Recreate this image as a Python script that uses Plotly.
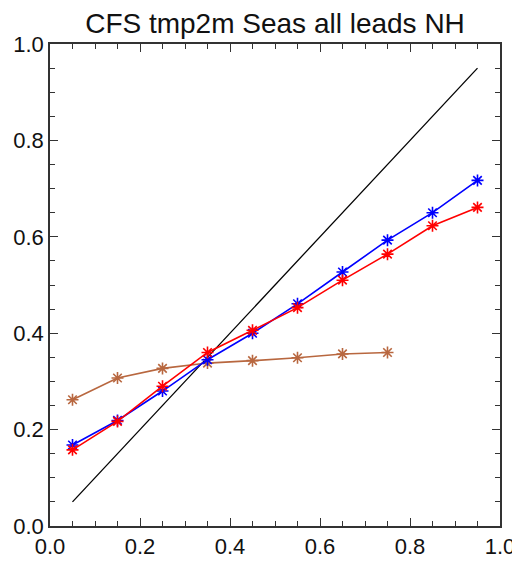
import plotly.graph_objects as go

x_bins = [0.05, 0.15, 0.25, 0.35, 0.45, 0.55, 0.65, 0.75, 0.85, 0.95]
blue_vals = [0.168, 0.219, 0.280, 0.345, 0.400, 0.461, 0.527, 0.593, 0.650, 0.717]
red_vals = [0.158, 0.217, 0.290, 0.360, 0.406, 0.453, 0.510, 0.564, 0.623, 0.661]
brown_x = [0.05, 0.15, 0.25, 0.35, 0.45, 0.55, 0.65, 0.75]
brown_vals = [0.262, 0.307, 0.327, 0.338, 0.343, 0.349, 0.357, 0.360]
diag_x = [0.05, 0.95]
diag_y = [0.05, 0.95]

title_text = "CFS tmp2m Seas all leads NH"

fig = go.Figure()
fig.add_trace(go.Scatter(x=diag_x, y=diag_y, mode="lines",
                         line=dict(color="black", width=1.3), showlegend=False))
for xs, ys, col in [(brown_x, brown_vals, "#B8673F"),
                    (x_bins, blue_vals, "#0000FF"),
                    (x_bins, red_vals, "#FF0000")]:
    fig.add_trace(go.Scatter(x=xs, y=ys, mode="lines+markers",
                             line=dict(color=col, width=1.6),
                             marker=dict(symbol="asterisk-open", size=10,
                                         line=dict(color=col, width=1.6)),
                             showlegend=False))

axis_common = dict(
    range=[0, 1], dtick=0.2, tick0=0, tickformat=".1f",
    ticks="inside", ticklen=8, tickwidth=1.2, tickcolor="#333",
    showline=True, linecolor="#333", linewidth=1.5, mirror="ticks",
    showgrid=False, zeroline=False, automargin=False,
    minor=dict(dtick=0.05, ticks="inside", ticklen=5, tickwidth=1, tickcolor="#333", showgrid=False),
    tickfont=dict(family="Liberation Sans, Arial, sans-serif", size=22, color="#111"),
)

W, H = 512, 555
fig.update_layout(
    width=W, height=H,
    margin=dict(l=42, r=20, t=36, b=37),
    paper_bgcolor="white", plot_bgcolor="white",
    title=dict(text=title_text, x=267 / W, xanchor="center", y=1 - 15 / H, yanchor="middle",
               font=dict(family="Liberation Sans, Arial, sans-serif", size=28, color="#111")),
    xaxis=axis_common,
    yaxis=axis_common,
)

fig.write_html("out.html")
